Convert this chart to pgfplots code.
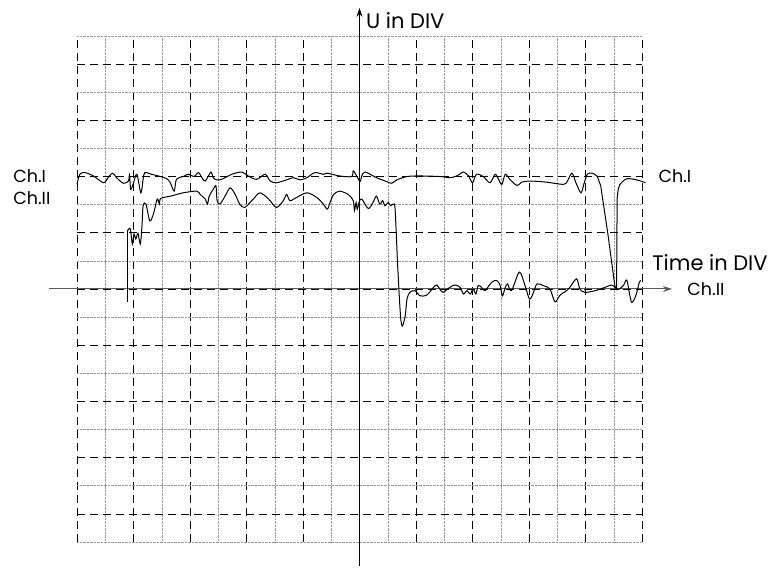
\documentclass[border=0pt]{standalone}
\usepackage{pgfplots}
\pgfplotsset{compat=1.18}
\usepackage{fontspec}
\setmainfont{Poppins}
\usetikzlibrary{arrows.meta}

\newcommand{\bigtxt}{\fontsize{21}{24}\selectfont}
\newcommand{\smalltxt}{\fontsize{17.5}{20}\selectfont}

\begin{document}
\begin{tikzpicture}
\begin{axis}[
    scale only axis,
    width=565pt, height=506pt,
    xmin=-5, xmax=5, ymin=-4.5, ymax=4.5,
    axis line style={draw=none},
    xtick={-5,...,5}, ytick={-4,...,4},
    minor xtick={-4.5,-3.5,...,4.5},
    minor ytick={-4.5,-3.5,...,4.5},
    xticklabels={}, yticklabels={},
    major tick length=0pt, minor tick length=0pt,
    grid=both,
    major grid style={black, dash pattern=on 8pt off 5pt, line width=0.7pt},
    minor grid style={gray!80, densely dotted, line width=0.5pt},
    clip=false,
]
% canvas
\path (axis cs:-6.363,5.14) rectangle (axis cs:7.23,-4.98);

% axes
\draw[gray!70!black, line width=1pt, -{Stealth[length=9pt,width=6pt]}]
    (axis cs:-5.49,0) -- (axis cs:5.53,0);
\draw[black, line width=0.9pt, -{Stealth[length=9pt,width=6pt]}]
    (axis cs:0,-4.93) -- (axis cs:0,5.0);

% Ch.I
\addplot[black, line width=1pt, smooth, tension=0.5] coordinates {
    (-5.00,1.86) (-4.95,2.04) (-4.86,2.07) (-4.71,2.01) (-4.53,1.89)
    (-4.45,1.98) (-4.37,2.06) (-4.30,1.98) (-4.18,1.88) (-4.09,1.92)
    (-4.07,2.04) (-4.05,1.77) (-4.00,1.89) (-3.94,2.04) (-3.87,1.71)
    (-3.83,1.95) (-3.80,2.07) (-3.68,2.04) (-3.56,2.01) (-3.41,1.96)
    (-3.35,1.89) (-3.28,1.74) (-3.24,1.95) (-3.12,2.00) (-3.03,2.04)
    (-2.93,2.00) (-2.85,2.07) (-2.79,1.98) (-2.73,1.92) (-2.63,2.08)
    (-2.59,1.98) (-2.53,1.94) (-2.44,1.95) (-2.26,2.04) (-2.08,2.08)
    (-1.97,2.01) (-1.82,1.95) (-1.67,2.04) (-1.58,1.92) (-1.47,1.89)
    (-1.29,1.94) (-1.17,1.98) (-1.05,1.94) (-0.93,1.98) (-0.79,2.07)
    (-0.64,2.04) (-0.58,2.06) (-0.35,2.01) (-0.14,2.00) (-0.11,2.10)
    (-0.05,2.01) (0.01,1.91) (0.04,2.01) (0.10,2.08) (0.30,1.98)
    (0.48,1.91) (0.57,1.88) (0.66,1.94) (0.84,2.00) (1.07,2.01)
    (1.42,2.00) (1.60,1.98) (1.72,2.01) (1.84,2.08) (1.93,2.01)
    (2.00,1.89) (2.07,2.04) (2.19,2.00) (2.31,1.89) (2.40,2.04)
    (2.46,1.95) (2.52,1.86) (2.58,2.04) (2.66,1.95) (2.79,1.84)
    (2.87,1.90) (3.02,1.92) (3.31,1.90) (3.61,1.86) (3.68,1.92)
    (3.76,2.06) (3.83,1.89) (3.92,1.71) (3.97,1.86) (4.03,2.04)
    (4.11,2.06) (4.20,2.01) (4.27,1.83)
};
\addplot[black, line width=1pt] coordinates {
    (4.27,1.83) (4.40,0.95) (4.52,0.05) (4.55,0.00) (4.56,1.60)
};
\addplot[black, line width=1pt, smooth, tension=0.5] coordinates {
    (4.56,1.60) (4.58,1.78) (4.61,1.86) (4.73,1.96) (4.91,1.94) (5.06,1.89)
};

% Ch.II
\addplot[black, line width=1pt] coordinates {
    (-4.11,-0.24) (-4.11,1.03)
};
\addplot[black, line width=1pt, smooth, tension=0.5] coordinates {
    (-4.11,1.03) (-4.07,1.08) (-4.05,1.03) (-4.02,0.80) (-3.99,0.98)
    (-3.96,0.89) (-3.92,0.99) (-3.88,0.80) (-3.85,1.12) (-3.83,1.48)
    (-3.78,1.51) (-3.71,1.21) (-3.64,1.36) (-3.58,1.60) (-3.54,1.51)
    (-3.52,1.61) (-3.35,1.65) (-3.12,1.71) (-2.88,1.74) (-2.82,1.68)
    (-2.73,1.60) (-2.69,1.51) (-2.66,1.65) (-2.59,1.77) (-2.54,1.83)
    (-2.52,1.57) (-2.47,1.51) (-2.38,1.65) (-2.29,1.80) (-2.20,1.68)
    (-2.12,1.51) (-2.03,1.45) (-1.88,1.60) (-1.76,1.71) (-1.61,1.60)
    (-1.47,1.45) (-1.35,1.57) (-1.29,1.68) (-1.23,1.57) (-1.11,1.63)
    (-0.93,1.71) (-0.76,1.63) (-0.64,1.51) (-0.57,1.42) (-0.52,1.54)
    (-0.46,1.68) (-0.35,1.74) (-0.20,1.68) (-0.11,1.57) (-0.09,1.39)
    (-0.06,1.54) (-0.04,1.42) (0.00,1.57) (0.04,1.60) (0.08,1.54)
    (0.16,1.43) (0.24,1.54) (0.30,1.65) (0.36,1.51) (0.41,1.57)
    (0.45,1.48) (0.51,1.54) (0.55,1.48) (0.60,1.51) (0.63,1.42)
    (0.67,0.53) (0.70,-0.06) (0.73,-0.53) (0.76,-0.66) (0.81,-0.47)
    (0.84,-0.18) (0.89,-0.06) (0.98,-0.03) (1.07,-0.12) (1.19,-0.11)
    (1.31,0.03) (1.37,0.07) (1.42,0.00) (1.48,-0.06) (1.60,0.03)
    (1.69,0.07) (1.78,0.03) (1.84,-0.09) (1.90,-0.03) (1.96,-0.09)
    (2.01,0.00) (2.06,-0.09) (2.10,0.06) (2.16,0.03) (2.22,-0.03)
    (2.34,0.12) (2.43,0.15) (2.49,0.06) (2.53,-0.12) (2.58,0.03)
    (2.62,0.09) (2.69,-0.03) (2.83,0.30) (2.93,0.06) (3.01,-0.18)
    (3.08,-0.06) (3.14,0.09) (3.25,0.06) (3.37,0.00) (3.46,-0.23)
    (3.55,-0.11) (3.70,0.00) (3.84,0.18) (3.90,0.00) (3.99,-0.06)
    (4.17,-0.03) (4.35,0.03) (4.46,0.07) (4.52,0.03) (4.58,-0.01)
    (4.67,0.06) (4.73,0.16) (4.78,-0.09) (4.82,-0.24) (4.89,-0.12)
    (4.95,0.11) (4.98,0.15)
};

% labels
\node[anchor=base west, inner sep=0pt] at (axis cs:0.115,4.63) {\bigtxt U in DIV};
\node[anchor=base west, inner sep=0pt] at (axis cs:5.18,0.32) {\bigtxt Time in DIV};
\node[anchor=base west, inner sep=0pt] at (axis cs:5.80,-0.12) {\smalltxt Ch.II};
\node[anchor=base west, inner sep=0pt] at (axis cs:5.29,1.90) {\smalltxt Ch.I};
\node[anchor=base west, inner sep=0pt] at (axis cs:-6.13,1.89) {\smalltxt Ch.I};
\node[anchor=base west, inner sep=0pt] at (axis cs:-6.13,1.51) {\smalltxt Ch.II};
\end{axis}
\end{tikzpicture}
\end{document}
